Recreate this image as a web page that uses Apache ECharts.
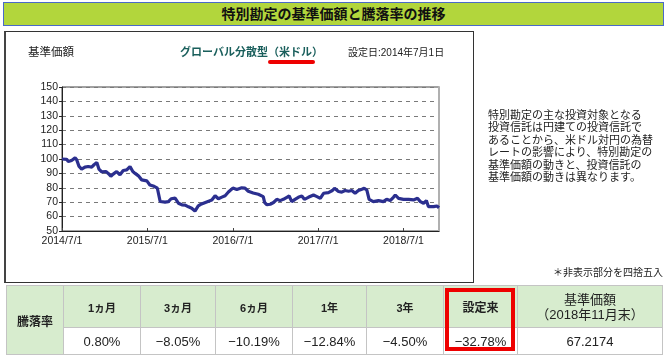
<!DOCTYPE html>
<html>
<head>
<meta charset="utf-8">
<script src="https://cdn.jsdelivr.net/npm/echarts@6/dist/echarts.min.js"></script>
<style>
html,body{margin:0;padding:0;background:#fff;width:667px;height:357px;overflow:hidden;
  font-family:"Liberation Sans","Noto Sans CJK JP",sans-serif;color:#222;}
.abs{position:absolute;}
#titlebar{left:3px;top:2px;width:659px;height:22px;background:#b2d63c;border:1px solid #4a6ac8;
  text-align:center;font-weight:bold;font-size:14px;line-height:22px;color:#111;}
#chartbox{left:4px;top:31px;width:467px;height:250px;border:1px solid #333;border-left:2px solid #444;}
#chart{left:0;top:0;width:667px;height:357px;z-index:2;}
.t{z-index:3;white-space:nowrap;}
#note{left:488px;top:109px;font-size:11px;line-height:12.4px;color:#222;z-index:3;}
#tbl{left:6px;top:285px;z-index:3;border-collapse:collapse;table-layout:fixed;}
#tbl td{border:1px solid #c4c4c4;text-align:center;padding:0;}
#tbl .h{background:#d7ecce;font-weight:bold;font-size:11px;height:41px;}
#tbl .v{background:#fff;font-size:13px;height:26px;}
#redbox{left:445px;top:288px;width:70px;height:63px;box-sizing:border-box;border:4px solid #ee0000;z-index:4;}
#uline{left:268px;top:60px;width:47px;height:4px;border-radius:2px;background:#ee0000;z-index:3;}
</style>
</head>
<body>
<div id="titlebar" class="abs">特別勘定の基準価額と騰落率の推移</div>
<div id="chartbox" class="abs"></div>
<div id="chart" class="abs"></div>
<div class="abs t" style="left:28px;top:43px;font-size:11.5px;">基準価額</div>
<div class="abs t" style="left:180px;top:43px;font-size:11px;font-weight:bold;color:#1a5f5c;">グローバル分散型（米ドル）</div>
<div id="uline" class="abs"></div>
<div class="abs t" style="left:348px;top:44px;font-size:10px;">設定日:2014年7月1日</div>
<div id="note" class="abs">特別勘定の主な投資対象となる<br>投資信託は円建ての投資信託で<br>あることから、米ドル対円の為替<br>レートの影響により、特別勘定の<br>基準価額の動きと、投資信託の<br>基準価額の動きは異なります。</div>
<div class="abs t" style="left:553px;top:264px;font-size:10px;">＊非表示部分を四捨五入</div>
<table id="tbl" class="abs">
<colgroup><col style="width:57px"><col style="width:77px"><col style="width:75px"><col style="width:77px"><col style="width:74px"><col style="width:77px"><col style="width:74px"><col style="width:145px"></colgroup>
<tr><td class="h" rowspan="2" style="font-size:12px;">騰落率</td>
<td class="h">1ヵ月</td><td class="h">3ヵ月</td><td class="h">6ヵ月</td><td class="h">1年</td><td class="h">3年</td><td class="h" style="font-size:12px;">設定来</td>
<td class="h" style="font-weight:normal;font-size:13px;line-height:15px;">基準価額<br>（2018年11月末）</td></tr>
<tr><td class="v">0.80%</td><td class="v">−8.05%</td><td class="v">−10.19%</td><td class="v">−12.84%</td><td class="v">−4.50%</td><td class="v">−32.78%</td><td class="v">67.2174</td></tr>
</table>
<div id="redbox" class="abs"></div>
<script>
var dates = ['2014-07-01','2014-07-09','2014-07-21','2014-07-28','2014-08-04','2014-08-11','2014-08-19','2014-08-26',
'2014-09-02','2014-09-12','2014-09-23','2014-10-01','2014-10-07','2014-10-21','2014-11-05','2014-11-15','2014-11-27',
'2014-12-06','2014-12-18','2015-01-05','2015-01-15','2015-01-26','2015-02-05','2015-02-20','2015-03-06','2015-03-20',
'2015-04-04','2015-04-18','2015-04-30','2015-05-10','2015-05-24','2015-06-07','2015-06-29','2015-07-12','2015-07-30',
'2015-08-13','2015-08-21','2015-08-25','2015-09-02','2015-09-15','2015-09-29','2015-10-11','2015-10-28','2015-11-11',
'2015-11-26','2015-12-10','2015-12-24','2016-01-07','2016-01-21','2016-02-04','2016-02-18','2016-03-11','2016-04-02',
'2016-04-16','2016-04-30','2016-05-15','2016-05-29','2016-06-12','2016-07-01','2016-07-18','2016-08-08','2016-08-22',
'2016-09-05','2016-09-26','2016-10-18','2016-11-08','2016-11-14','2016-11-24','2016-12-08','2016-12-22','2017-01-05',
'2017-01-19','2017-02-02','2017-02-17','2017-02-27','2017-03-10','2017-03-24','2017-04-07','2017-04-22','2017-05-03',
'2017-05-20','2017-06-11','2017-06-26','2017-07-10','2017-07-24','2017-08-14','2017-08-31','2017-09-09','2017-09-26',
'2017-10-10','2017-10-24','2017-11-08','2017-11-22','2017-12-06','2017-12-20','2018-01-04','2018-01-14','2018-01-25',
'2018-02-04','2018-02-22','2018-03-16','2018-04-06','2018-04-20','2018-05-05','2018-05-19','2018-05-27','2018-06-10',
'2018-07-01','2018-07-23','2018-08-13','2018-08-30','2018-09-11','2018-09-25','2018-10-07','2018-10-16','2018-11-07',
'2018-11-21','2018-11-30'];
var nav = [100,100.2,99.8,98.3,97.5,99,100.2,100.8,
99.4,94.8,93,93.8,94.4,94.8,94.4,96,97.5,
93,91,91.3,90,88,89.5,91.3,89,92,
92.4,94.8,91.3,90,88.3,85.5,84.8,82,81,
79.7,79,70.5,69.8,70,70.4,72.4,72.8,69.3,
68.2,68,66.8,65.8,63.8,67.4,68.8,70.2,71.5,
74.5,72.4,73.5,74.5,77.1,79.8,78.8,80,79.8,
77.6,76.4,75.5,73.9,69.8,68.2,68.6,69.8,72,
71.1,72,73.4,74.3,70.4,72,73.4,74.3,72,
73.4,75,73.9,72.7,76.2,76.7,78.1,79.7,77.4,
77,78.1,77.6,78.1,76.2,78.1,79,79.7,78.5,
72,70.4,71.1,70.4,72,71.1,73.4,75,72.7,
72,72,71.6,72.7,70.4,69.3,71.1,66.9,66.9,
67.4,66.2];
var xTicks = ['2014-07-01','2015-07-01','2016-07-01','2017-07-01','2018-07-01'];
var xStart = '2014-07-01', xEnd = '2018-11-30';
var yMin = 50, yMax = 150, yStep = 10;

function ts(s){var p=s.split('-');return Date.UTC(+p[0],+p[1]-1,+p[2]);}
var seriesData = dates.map(function(d,i){return [ts(d), nav[i]];});
var tickVals = xTicks.map(ts);

var chart = echarts.init(document.getElementById('chart'), null, {renderer:'canvas'});
chart.setOption({
  animation:false,
  backgroundColor:'transparent',
  grid:{left:62,right:228,top:87,bottom:126,show:true,borderColor:'#444',borderWidth:1,backgroundColor:'transparent'},
  xAxis:{type:'value',min:ts(xStart),max:ts(xEnd),
    axisLine:{lineStyle:{color:'#222',width:1}},
    axisTick:{show:true,inside:true,length:3,customValues:tickVals,lineStyle:{color:'#444'}},
    axisLabel:{customValues:tickVals,fontSize:10.5,color:'#222',margin:5,fontFamily:'Liberation Sans',
      formatter:function(v){var d=new Date(v);return d.getUTCFullYear()+'/'+(d.getUTCMonth()+1)+'/'+d.getUTCDate();}},
    splitLine:{show:false}},
  yAxis:[{type:'value',min:yMin,max:yMax,interval:yStep,
    axisLine:{show:true,lineStyle:{color:'#222',width:1}},
    axisTick:{show:true,length:3,lineStyle:{color:'#222'}},
    axisLabel:{fontSize:10.5,color:'#222',margin:4,fontFamily:'Liberation Sans'},
    splitLine:{show:true,lineStyle:{color:'#7a7a7a',type:[4,4],width:1}}},
    {type:'value',min:yMin,max:yMax,interval:yStep,position:'right',
    axisLine:{show:true,lineStyle:{color:'#b0b0b0',width:2}},
    axisTick:{show:false},axisLabel:{show:false},splitLine:{show:false}}],
  series:[{type:'line',data:seriesData,showSymbol:false,symbol:'none',
    lineStyle:{color:'#2b2f8f',width:3.2},itemStyle:{color:'#2b2f8f'}}]
});
</script>
</body>
</html>
